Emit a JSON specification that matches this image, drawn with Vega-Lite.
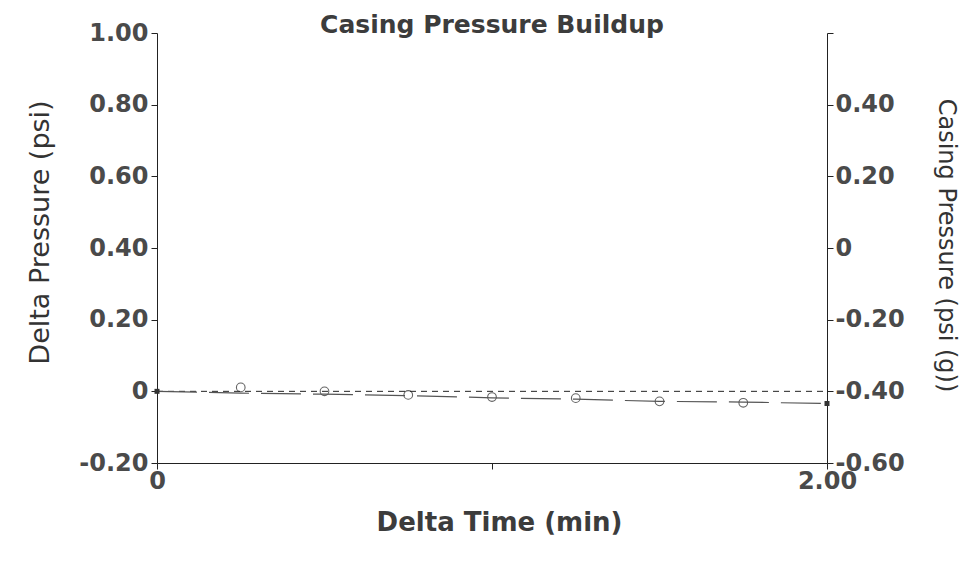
{
  "$schema": "https://vega.github.io/schema/vega-lite/v6.json",
  "autosize": {"type": "none"},
  "padding": {"left": 157, "top": 33, "right": 153, "bottom": 111},
  "width": 670,
  "height": 430,
  "background": "white",
  "title": {
    "text": "Casing Pressure Buildup",
    "font": "DejaVu Sans",
    "fontSize": 25,
    "fontWeight": "bold",
    "color": "#3c3c3c",
    "anchor": "middle",
    "offset": -17
  },
  "config": {
    "view": {"stroke": null},
    "axis": {
      "grid": false,
      "domainColor": "#222",
      "tickColor": "#222",
      "labelFont": "DejaVu Sans",
      "labelFontWeight": "bold",
      "labelFontSize": 24,
      "labelColor": "#4a4a4a",
      "titleColor": "#333"
    }
  },
  "datasets": {
    "delta": [
      {"t": 0.25, "dp": 0.011},
      {"t": 0.5, "dp": 0.0},
      {"t": 0.75, "dp": -0.010},
      {"t": 1.0, "dp": -0.016},
      {"t": 1.25, "dp": -0.019},
      {"t": 1.5, "dp": -0.028},
      {"t": 1.75, "dp": -0.032}
    ],
    "casing": [
      {"t": 0.0, "cp": -0.400},
      {"t": 0.25, "cp": -0.405},
      {"t": 0.5, "cp": -0.408},
      {"t": 0.75, "cp": -0.412},
      {"t": 1.0, "cp": -0.418},
      {"t": 1.25, "cp": -0.422},
      {"t": 1.5, "cp": -0.428},
      {"t": 1.75, "cp": -0.430},
      {"t": 2.0, "cp": -0.434}
    ],
    "zero": [{"t0": 0, "t1": 2, "v": 0}]
  },
  "layer": [
    {
      "layer": [
        {
          "data": {"name": "zero"},
          "mark": {"type": "rule", "color": "#222", "strokeWidth": 1, "strokeDash": [6, 5]},
          "encoding": {
            "x": {"field": "t0", "type": "quantitative", "scale": {"domain": [0, 2]}},
            "x2": {"field": "t1"},
            "y": {"field": "v", "type": "quantitative", "scale": {"domain": [-0.2, 1.0]}}
          }
        },
        {
          "data": {"name": "delta"},
          "mark": {"type": "point", "shape": "circle", "filled": false, "color": "#222", "size": 75, "strokeWidth": 1.1},
          "encoding": {
            "x": {
              "field": "t", "type": "quantitative",
              "scale": {"domain": [0, 2], "nice": false},
              "axis": {
                "title": "Delta Time (min)",
                "values": [0, 1, 2],
                "labelExpr": "datum.value == 0 ? '0' : (datum.value == 2 ? '2.00' : '')",
                "tickSize": 6,
                "labelPadding": 0,
                "labelFlush": false,
                "titleFont": "DejaVu Sans",
                "titleFontWeight": "bold",
                "titleFontSize": 26,
                "titleBaseline": "middle",
                "titleX": 342,
                "titleY": 59,
                "titleColor": "#3c3c3c"
              }
            },
            "y": {
              "field": "dp", "type": "quantitative",
              "scale": {"domain": [-0.2, 1.0], "nice": false, "zero": false},
              "axis": {
                "title": "Delta Pressure (psi)",
                "values": [-0.2, -0.1, 0, 0.1, 0.2, 0.3, 0.4, 0.5, 0.6, 0.7, 0.8, 0.9, 1.0],
                "labelExpr": "abs(round(datum.value*10)) % 2 == 1 ? '' : (abs(datum.value) < 1e-9 ? '0' : replace(format(datum.value, '.2f'), '\u2212', '-'))",
                "tickSize": 6,
                "labelPadding": 3,
                "labelFlush": false,
                "titleFont": "DejaVu Sans",
                "titleFontWeight": "normal",
                "titleFontSize": 27,
                "titleBaseline": "middle",
                "titleX": -117,
                "titleY": 199
              }
            }
          }
        }
      ]
    },
    {
      "data": {"name": "casing"},
      "layer": [
        {
          "mark": {"type": "line", "color": "#555", "strokeWidth": 1.2, "strokeDash": [40, 12]},
          "encoding": {
            "x": {"field": "t", "type": "quantitative", "scale": {"domain": [0, 2]}},
            "y": {
              "field": "cp", "type": "quantitative",
              "scale": {"domain": [-0.6, 0.6], "nice": false, "zero": false},
              "axis": {
                "orient": "right",
                "title": "Casing Pressure (psi (g))",
                "values": [-0.6, -0.4, -0.2, 0, 0.2, 0.4, 0.6],
                "labelExpr": "datum.value > 0.5 ? '' : (abs(datum.value) < 1e-9 ? '0' : replace(format(datum.value, '.2f'), '\u2212', '-'))",
                "tickSize": 6,
                "labelPadding": 2,
                "labelFlush": false,
                "titleFont": "DejaVu Sans",
                "titleFontWeight": "normal",
                "titleFontSize": 24,
                "titleAngle": 90,
                "titleBaseline": "middle",
                "titleX": 118,
                "titleY": 212
              }
            }
          }
        },
        {
          "transform": [{"filter": "datum.t == 0 || datum.t == 2"}],
          "mark": {"type": "point", "shape": "square", "filled": true, "color": "#333", "size": 25, "opacity": 1},
          "encoding": {
            "x": {"field": "t", "type": "quantitative"},
            "y": {"field": "cp", "type": "quantitative"}
          }
        }
      ]
    }
  ],
  "resolve": {"scale": {"y": "independent"}, "axis": {"y": "independent"}}
}
